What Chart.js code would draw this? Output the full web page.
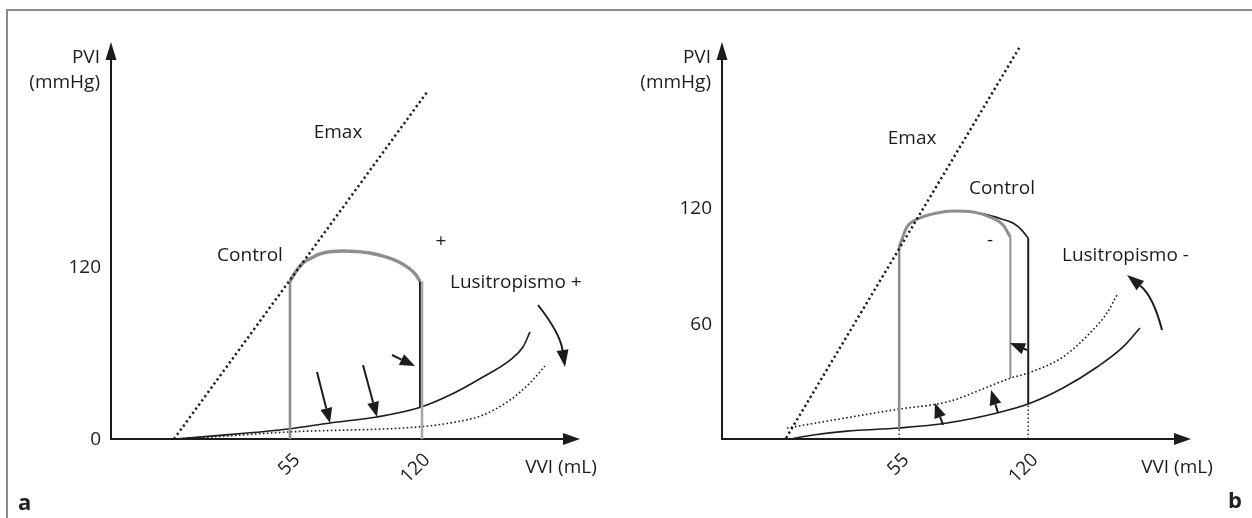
<!DOCTYPE html>
<html>
<head>
<meta charset="utf-8">
<script src="https://cdn.jsdelivr.net/npm/chart.js@4.4.1/dist/chart.umd.min.js"></script>
<style>
  html, body { margin: 0; padding: 0; background: #fff; }
  body { width: 1252px; height: 518px; position: relative; overflow: hidden; font-family: "Open Sans", sans-serif; }
  .frame { position: absolute; left: 6px; top: 9px; width: 1300px; height: 600px; border-top: 2px solid #8a8a8a; border-left: 2px solid #8a8a8a; }
  .panel { position: absolute; top: 0; width: 626px; height: 518px; }
  #wrapA { left: 0; }
  #wrapB { left: 626px; }
  .tag { position: absolute; font-weight: bold; font-size: 22px; color: #231f20; line-height: 1; }
</style>
</head>
<body>
<div class="frame"></div>
<div class="panel" id="wrapA"><canvas id="panelA" width="626" height="518"></canvas></div>
<div class="panel" id="wrapB"><canvas id="panelB" width="626" height="518"></canvas></div>
<div class="tag" style="left:18px; top:490px;">a</div>
<div class="tag" style="left:1228px; top:488px;">b</div>
<script>
// ---- panel a : lusitropismo + ----
const xTicksA = [55, 120];
const yTicksA = [0, 120];
const emaxA = [[-3, 0], [124, 243]];
const edpvrA = [[-2.5, 0], [20, 2.5], [54, 7], [75, 11.2], [98.5, 15.4], [119, 21.6], [135, 30.7], [151.5, 43.3], [165, 55.1], [171.5, 64.2], [175, 74.7]];
const edpvrLusiA = [[-2.5, 0], [20, 1.8], [54, 4.9], [119, 8.4], [135, 11.2], [151.5, 16.7], [165, 27.2], [175, 39.1], [182.5, 51]];
const loopTopA = [[55, 110], [58, 117], [61.5, 122.8], [66, 126.5], [70, 129.1], [76, 130.8], [81.5, 131.2], [88, 130.8], [95, 129.8], [102, 127.5], [108.5, 124.2], [115, 118.6], [118, 114.5], [120, 110]];
const loopLeftA = [[55, 0], [55, 110]];
const loopRightGrayA = [[121, 0], [121, 110]];
const loopRightA = [[120, 22], [120, 110]];
const loopLeftBlackA = [[55, 7], [55, 110]];
const arrowsA = [[68.5, 46.8, 75, 11.2], [91.5, 51.6, 98.5, 15.4], [106, 58.6, 117.5, 50.9]];
const bentArrowsA = [[179, 93.5, 190, 74, 192.5, 50.2]];
const notesA = [["Emax", 79, 213.5, "center"], ["Control", 35, 127.7, "center"], ["+", 130.5, 137.5, "center"], ["Lusitropismo +", 135, 108.9, "left"]];

// ---- panel b : lusitropismo - ----
const xTicksB = [55, 120];
const yTicksB = [60, 120];
const emaxB = [[-2, 0.5], [116, 203.6]];
const edpvrB = [[1.5, 0.3], [11.6, 2.1], [28.7, 4.1], [54.9, 5.7], [79.1, 8.3], [104.3, 13.5], [119.9, 18.1], [137.5, 26.4], [154.7, 37.3], [167.8, 47.7], [176.3, 57.5]];
const edpvrLusiB = [[-1.5, 5.7], [54.9, 15.5], [79.1, 19.2], [111.3, 31.6], [119.9, 34.2], [137.5, 42.5], [151.1, 54.9], [159.7, 65.3], [164.7, 74.6]];
const loopTopGrayB = [[55, 99.5], [58.9, 109.8], [65.5, 114.5], [74, 117.1], [82.1, 118.1], [92.2, 117.6], [100.8, 115], [107.3, 110.9], [111, 104.7]];
const loopTopB = [[55, 99.5], [58.9, 109.8], [65.5, 114.5], [74, 117.1], [82.1, 118.1], [92.2, 117.6], [100, 116], [106.5, 114], [112.3, 111.9], [116.5, 108.5], [120, 104.1]];
const loopLeftB = [[55, 5.7], [55, 99.5]];
const loopInnerB = [[111, 31.6], [111, 104.7]];
const loopRightB = [[120, 18.1], [120, 104.1]];
const dropsB = [[[55, 0], [55, 5.7]], [[120, 0], [120, 18.1]]];
const arrowsB = [[77.1, 7.3, 73, 18.7], [104.8, 13.5, 101.3, 25.4], [119.4, 46.1, 110.8, 49.7]];
const bentArrowsB = [[187.4, 56.5, 183, 74, 169.8, 85]];
const notesB = [["Emax", 61.5, 155.4, "center"], ["Control", 106.8, 129.5, "center"], ["-", 100.8, 102.6, "center"], ["Lusitropismo -", 137, 94.8, "left"]];

const INK = "#1e1b1c";
const GRAY = "#8e8e8e";
const FONT = '19px "Open Sans", sans-serif';

const pts = (arr) => arr.map(([x, y]) => ({ x, y }));

function line(data, color, width, extra) {
  return Object.assign({
    data: pts(data), showLine: true, borderColor: color, borderWidth: width,
    pointRadius: 0, fill: false, clip: false, tension: 0
  }, extra || {});
}
const smooth = { cubicInterpolationMode: "monotone" };
const dotted = { borderDash: [2.2, 3] };
const fine = { borderDash: [1.6, 2.4], cubicInterpolationMode: "monotone" };

function head(ctx, x1, y1, x2, y2, len, half) {
  const a = Math.atan2(y2 - y1, x2 - x1);
  const bx = x2 - len * Math.cos(a), by = y2 - len * Math.sin(a);
  ctx.beginPath();
  ctx.moveTo(x2, y2);
  ctx.lineTo(bx + half * Math.sin(a), by - half * Math.cos(a));
  ctx.lineTo(bx - half * Math.sin(a), by + half * Math.cos(a));
  ctx.closePath();
  ctx.fill();
  return [bx, by];
}

const pvPlugin = {
  id: "pv",
  beforeDatasetsDraw(chart, args, o) {
    const { ctx, chartArea: ca, scales: { x, y } } = chart;
    ctx.save();
    ctx.strokeStyle = INK;
    ctx.fillStyle = INK;
    ctx.lineWidth = 2;
    ctx.beginPath();
    ctx.moveTo(ca.left, ca.top + 15);
    ctx.lineTo(ca.left, ca.bottom);
    ctx.lineTo(ca.right - 15, ca.bottom);
    ctx.stroke();
    head(ctx, ca.left, ca.bottom, ca.left, ca.top, 18, 5.5);
    head(ctx, ca.left, ca.bottom, ca.right, ca.bottom, 17, 6);

    ctx.font = FONT;
    ctx.textBaseline = "middle";
    ctx.textAlign = "right";
    o.yTicks.forEach((v) => ctx.fillText(String(v), ca.left - 10, y.getPixelForValue(v) + 1));
    ctx.fillText("PVI", ca.left - 11, 58);
    ctx.fillText("(mmHg)", ca.left - 11, 83);
    o.xTicks.forEach((v) => {
      ctx.save();
      ctx.translate(x.getPixelForValue(v) + 7, ca.bottom + 18);
      ctx.rotate(-Math.PI / 4);
      ctx.fillText(String(v), 0, 0);
      ctx.restore();
    });
    ctx.textAlign = "center";
    ctx.fillText("VVI (mL)", ca.right + o.titleShift, ca.bottom + 29);
    ctx.restore();
  },
  afterDatasetsDraw(chart, args, o) {
    const { ctx, scales: { x, y } } = chart;
    ctx.save();
    ctx.strokeStyle = INK;
    ctx.fillStyle = INK;
    ctx.lineWidth = 2;
    o.arrows.forEach(([x1, y1, x2, y2]) => {
      const p1 = [x.getPixelForValue(x1), y.getPixelForValue(y1)];
      const p2 = [x.getPixelForValue(x2), y.getPixelForValue(y2)];
      const b = head(ctx, p1[0], p1[1], p2[0], p2[1], 15, 6);
      ctx.beginPath();
      ctx.moveTo(p1[0], p1[1]);
      ctx.lineTo(b[0], b[1]);
      ctx.stroke();
    });
    o.bent.forEach(([x1, y1, cx, cy, x2, y2]) => {
      const p1 = [x.getPixelForValue(x1), y.getPixelForValue(y1)];
      const c = [x.getPixelForValue(cx), y.getPixelForValue(cy)];
      const p2 = [x.getPixelForValue(x2), y.getPixelForValue(y2)];
      const b = head(ctx, c[0], c[1], p2[0], p2[1], 17, 6);
      ctx.beginPath();
      ctx.moveTo(p1[0], p1[1]);
      ctx.quadraticCurveTo(c[0], c[1], b[0], b[1]);
      ctx.stroke();
    });
    ctx.font = FONT;
    ctx.textBaseline = "middle";
    o.notes.forEach(([t, nx, ny, al]) => {
      ctx.textAlign = al;
      ctx.fillText(t, x.getPixelForValue(nx), y.getPixelForValue(ny));
    });
    ctx.restore();
  }
};

function makeChart(id, datasets, pad, xr, yr, pv) {
  return new Chart(document.getElementById(id), {
    type: "scatter",
    data: { datasets },
    options: {
      responsive: false,
      animation: false,
      devicePixelRatio: 1,
      events: [],
      layout: { padding: pad },
      plugins: { legend: { display: false }, tooltip: { enabled: false }, pv },
      scales: {
        x: { type: "linear", display: false, min: xr[0], max: xr[1] },
        y: { type: "linear", display: false, min: yr[0], max: yr[1] }
      }
    },
    plugins: [pvPlugin]
  });
}

makeChart("panelA", [
  line(emaxA, INK, 2.5, dotted),
  line(loopLeftA, GRAY, 2.6),
  line(loopRightGrayA, "#a8a8a8", 2.6),
  line(loopTopA, GRAY, 3.4, smooth),
  line(loopTopA, "#4a4a4a", 1, smooth),
  line(loopLeftBlackA, "#4a4a4a", 1),
  line(loopRightA, INK, 2),
  line(edpvrLusiA, INK, 1.6, fine),
  line(edpvrA, INK, 1.6, smooth)
], { left: 111, right: 46, top: 42, bottom: 79 }, [-34.5, 200], [0, 277],
  { xTicks: xTicksA, yTicks: yTicksA, arrows: arrowsA, bent: bentArrowsA, notes: notesA, titleShift: -19 });

makeChart("panelB", [
  line(emaxB, INK, 2.5, dotted),
  line(dropsB[0], INK, 1.4, { borderDash: [1.6, 2.4] }),
  line(dropsB[1], INK, 1.4, { borderDash: [1.6, 2.4] }),
  line(loopTopGrayB, GRAY, 3, smooth),
  line(loopTopB, INK, 1.6, smooth),
  line(loopLeftB, GRAY, 2.6),
  line(loopLeftB, "#3a3a3a", 1),
  line(loopInnerB, GRAY, 2),
  line(loopRightB, INK, 2),
  line(edpvrLusiB, INK, 1.6, fine),
  line(edpvrB, INK, 1.6, smooth)
], { left: 96, right: 61, top: 42, bottom: 79 }, [-34.26, 202], [0, 205.7],
  { xTicks: xTicksB, yTicks: yTicksB, arrows: arrowsB, bent: bentArrowsB, notes: notesB, titleShift: -14 });
</script>
</body>
</html>
